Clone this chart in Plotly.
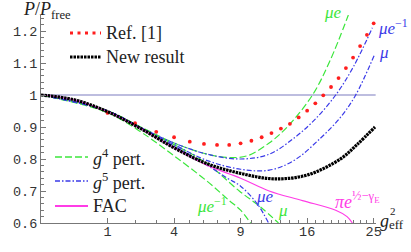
import numpy as np
import plotly.graph_objects as go

# ---------------- data (x values are g_eff^2, y values are P/P_free) ----------------
g2_ticks = [1, 4, 9, 16, 25]
g2_minor = [2, 3, 5, 6, 7, 8, 10, 11, 12, 13, 14, 15, 17, 18, 19, 20, 21, 22, 23, 24]
y_tickvals = [0.6, 0.7, 0.8, 0.9, 1.0, 1.1, 1.2]
y_ticktext = ["0.6", "0.7", "0.8", "0.9", "1", "1.1", "1.2"]

# Ref. [1]
g2_ref = list(range(1, 26))
p_ref = [0.944, 0.912, 0.885, 0.868, 0.854, 0.847, 0.844, 0.844, 0.849, 0.857,
         0.868, 0.881, 0.895, 0.910, 0.930, 0.951, 0.974, 0.999, 1.025, 1.053,
         1.084, 1.117, 1.153, 1.188, 1.224]

# New result
g2_new = [0, 0.25, 1.0, 2.25, 4.0, 6.25, 9.0, 12.25, 16.0, 20.25, 22.56, 25.2]
p_new = [1.0, 0.985, 0.948, 0.895, 0.835, 0.785, 0.755, 0.738, 0.750, 0.800, 0.845, 0.900]

# FAC
g2_fac = [0, 0.25, 1.0, 2.25, 4.0, 6.25, 9.0, 11.76, 15.44, 19.62, 21.16, 21.9]
p_fac = [1.0, 0.985, 0.948, 0.895, 0.835, 0.780, 0.740, 0.700, 0.670, 0.640, 0.620, 0.600]

# g^4 perturbative, three scales
g2_g4_mue = [0, 1.0, 2.25, 4.0, 6.25, 7.84, 9.61, 11.76, 13.69, 16.65, 18.92, 21.34]
p_g4_mue = [1.0, 0.950, 0.900, 0.850, 0.815, 0.805, 0.810, 0.850, 0.900, 1.000, 1.110, 1.250]
g2_g4_mu = [0, 1.0, 2.25, 4.0, 6.25, 8.88, 10.89, 12.74]
p_g4_mu = [1.0, 0.950, 0.897, 0.845, 0.785, 0.700, 0.650, 0.600]
g2_g4_muei = [0, 1.0, 2.25, 2.69, 4.0, 6.25, 8.01, 9.0, 9.92]
p_g4_muei = [1.0, 0.945, 0.885, 0.865, 0.810, 0.730, 0.670, 0.640, 0.600]

# g^5 perturbative, three scales
g2_g5_muei = [0, 1.0, 2.25, 4.0, 6.25, 9.0, 11.76, 14.44, 16.81, 19.62, 22.09, 24.8]
p_g5_muei = [1.0, 0.950, 0.898, 0.850, 0.815, 0.800, 0.815, 0.865, 0.920, 1.000, 1.090, 1.210]
g2_g5_mu = [0, 1.0, 2.25, 4.0, 6.25, 9.0, 11.76, 14.44, 17.64, 20.25, 22.37, 25.1]
p_g5_mu = [1.0, 0.950, 0.897, 0.845, 0.795, 0.768, 0.765, 0.795, 0.865, 0.930, 1.000, 1.125]
g2_g5_mue = [0, 1.0, 2.25, 4.0, 6.25, 7.84, 9.0, 10.56, 11.7]
p_g5_mue = [1.0, 0.950, 0.895, 0.840, 0.780, 0.740, 0.715, 0.660, 0.600]

g2_one = [0, 25.3]
p_one = [1.0, 1.0]

# ---------------- styling ----------------
GREEN = "#3ce63c"
BLUE = "#3a3ae8"
MAGENTA = "#ff3ce6"
RED = "#ff1e1e"
AXIS = "#777777"
TXT = "#222222"
SERIF = "Liberation Serif, Times New Roman, serif"
MONO = "Liberation Mono, Courier New, monospace"
DASH4 = "7px,3px"
DASH5 = "5px,2px,1.5px,2px"

W, H = 411, 252
L, R, T, B = 41, 35, 15, 29


def px(x):  # pixel -> paper x
    return (x - L) / (W - L - R)


def py(y):  # pixel -> paper y
    return (H - B - y) / (H - T - B)


def sx(v):
    return np.sqrt(np.asarray(v, dtype=float))


fig = go.Figure()

fig.add_trace(go.Scatter(x=sx(g2_one), y=p_one, mode="lines",
                         line=dict(color="#7c7cc0", width=1.1), showlegend=False, hoverinfo="skip"))


def curve(g2, p, color, dash, width=1.2):
    fig.add_trace(go.Scatter(x=sx(g2), y=p, mode="lines", line_shape="spline",
                             line=dict(color=color, width=width, dash=dash, smoothing=1.0),
                             showlegend=False))


curve(g2_g4_mue, p_g4_mue, GREEN, DASH4)
curve(g2_g4_mu, p_g4_mu, GREEN, DASH4)
curve(g2_g4_muei, p_g4_muei, GREEN, DASH4)
curve(g2_g5_muei, p_g5_muei, BLUE, DASH5)
curve(g2_g5_mu, p_g5_mu, BLUE, DASH5)
curve(g2_g5_mue, p_g5_mue, BLUE, DASH5)
curve(g2_fac, p_fac, MAGENTA, "solid")

fig.add_trace(go.Scatter(x=sx(g2_ref), y=p_ref, mode="markers", showlegend=False,
                         marker=dict(color=RED, size=3.8, symbol="circle", line=dict(width=0))))
fig.add_trace(go.Scatter(x=sx(g2_new), y=p_new, mode="lines", line_shape="spline",
                         showlegend=False,
                         line=dict(color="black", width=3.2, dash="2.5px,0.8px", smoothing=1.0)))

# ---------------- legends (sample line + label) ----------------
legend_items = [
    (70, 101, 33, RED, 3, "3px,4.5px", "Ref. [1]"),
    (70, 101, 57, "black", 3, "2.5px,1px", "New result"),
    (55, 88, 157, GREEN, 1.3, DASH4, "<i>g</i><sup>4</sup> pert."),
    (55, 88, 181, BLUE, 1.3, DASH5, "<i>g</i><sup>5</sup> pert."),
    (55, 88, 206, MAGENTA, 2, "solid", "FAC"),
]
for x0, x1, yy, col, wd, dash, label in legend_items:
    fig.add_shape(type="line", xref="paper", yref="paper",
                  x0=px(x0), x1=px(x1), y0=py(yy), y1=py(yy),
                  line=dict(color=col, width=wd, dash=dash))
    fig.add_annotation(x=px(x1 + 3), y=py(yy), xref="paper", yref="paper",
                       text=label, showarrow=False, xanchor="left", yanchor="middle",
                       font=dict(family=SERIF, size=18, color=TXT))


def ann(x, y, text, color, size=17, xanchor="center"):
    fig.add_annotation(x=px(x), y=py(y), xref="paper", yref="paper", text=text,
                       showarrow=False, font=dict(family=SERIF, size=size, color=color),
                       xanchor=xanchor, yanchor="middle")


ann(333, 12, "<i>μe</i>", GREEN)
ann(393, 27, "<i>μe</i><sup>−1</sup>", BLUE)
ann(384, 52, "<i>μ</i>", BLUE)
ann(212, 205, "<i>μe</i><sup>−1</sup>", GREEN)
ann(265, 196, "<i>μe</i>", BLUE)
ann(283, 210, "<i>μ</i>", GREEN)
ann(357, 200, "<i>πe</i><sup>½−γ<sub>E</sub></sup>", MAGENTA, size=18)
ann(47, 10, "<i>P</i>/<i>P</i><sub>free</sub>", TXT, size=18)
ann(378, 221, "<i>g</i>", TXT, size=18, xanchor="left")
ann(388, 211, "2", TXT, size=11, xanchor="left")
ann(387, 224, "eff", TXT, size=13, xanchor="left")

fig.update_layout(width=W, height=H, margin=dict(l=L, r=R, t=T, b=B, autoexpand=False),
                  template="none",
                  paper_bgcolor="white", plot_bgcolor="white", showlegend=False)

fig.update_xaxes(range=[0, 5.035], showgrid=False, zeroline=False, automargin=False,
                 showline=True, linecolor=AXIS, linewidth=1,
                 tickmode="array", tickvals=sx(g2_ticks), ticktext=[str(v) for v in g2_ticks],
                 ticks="inside", ticklen=5, tickcolor=AXIS, tickwidth=1,
                 ticklabelstandoff=-4,
                 tickfont=dict(family=MONO, size=13.5, color="#333333"),
                 minor=dict(tickmode="array", tickvals=sx(g2_minor), ticks="inside",
                            ticklen=3, tickcolor=AXIS, showgrid=False))
fig.update_yaxes(range=[0.6, 1.25], showgrid=False, zeroline=False, automargin=False,
                 showline=True, linecolor=AXIS, linewidth=1,
                 tickmode="array", tickvals=y_tickvals, ticktext=y_ticktext,
                 ticks="inside", ticklen=5, tickcolor=AXIS, tickwidth=1,
                 tickfont=dict(family=MONO, size=13.5, color="#333333"),
                 minor=dict(dtick=0.02, tick0=0.6, ticks="inside", ticklen=3,
                            tickcolor=AXIS, showgrid=False))

fig.write_html("out.html", config={"displayModeBar": False, "staticPlot": True},
               post_script="document.body.style.margin='0px';")
